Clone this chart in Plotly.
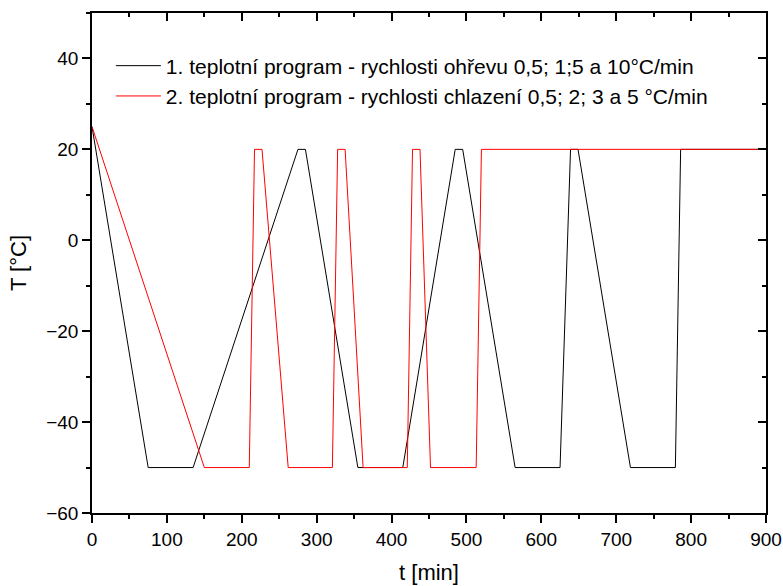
import plotly.graph_objects as go

# Program 1 (black)
t1 = [0, 75, 135, 275, 285, 355, 415, 485, 495, 565, 625, 639, 649, 719, 779, 786, 900]
T1 = [25, -50, -50, 20, 20, -50, -50, 20, 20, -50, -50, 20, 20, -50, -50, 20, 20]

# Program 2 (red)
t2 = [0, 150, 210, 217, 227, 262, 321, 328, 338, 362, 421, 428, 438, 452, 513, 520, 900]
T2 = [25, -50, -50, 20, 20, -50, -50, 20, 20, -50, -50, 20, 20, -50, -50, 20, 20]

name1 = "1. teplotní program - rychlosti ohřevu 0,5; 1;5 a 10°C/min"
name2 = "2. teplotní program - rychlosti chlazení 0,5; 2; 3 a 5 °C/min"

x_range = [0, 900]
y_range = [-60, 50]

FONT = "Liberation Sans, Arial, sans-serif"

fig = go.Figure()
fig.add_trace(go.Scatter(x=t1, y=T1, mode="lines", name=name1,
                         line=dict(color="black", width=1)))
fig.add_trace(go.Scatter(x=t2, y=T2, mode="lines", name=name2,
                         line=dict(color="red", width=1)))
# helper trace to materialize mirrored axes (top/right)
fig.add_trace(go.Scatter(x=[None], y=[None], xaxis="x2", yaxis="y2",
                         showlegend=False, hoverinfo="skip"))

tickfont = dict(family=FONT, size=19, color="black")

fig.update_layout(
    width=783, height=586,
    margin=dict(l=92, r=17, t=13, b=73),
    paper_bgcolor="white", plot_bgcolor="white",
    font=dict(family=FONT, color="black"),
    showlegend=True,
    legend=dict(x=0.028, y=0.935, xanchor="left", yanchor="top",
                bgcolor="rgba(0,0,0,0)", font=dict(family=FONT, size=21, color="black"),
                itemwidth=45, tracegroupgap=0),
    xaxis=dict(range=x_range, showgrid=False, zeroline=False, automargin=False,
               showline=True, linecolor="black", linewidth=1.5,
               ticks="outside", ticklen=8, tickwidth=1.5, tickcolor="black",
               dtick=100, tick0=0, tickfont=tickfont,
               minor=dict(dtick=50, ticks="outside", ticklen=4, tickwidth=1.5, tickcolor="black"),
               title=dict(text="t [min]", font=dict(family=FONT, size=22), standoff=16)),
    yaxis=dict(range=y_range, showgrid=False, zeroline=False, automargin=False,
               showline=True, linecolor="black", linewidth=1.5,
               ticks="outside", ticklen=8, tickwidth=1.5, tickcolor="black",
               dtick=20, tick0=0, tickfont=tickfont,
               minor=dict(dtick=10, ticks="outside", ticklen=4, tickwidth=1.5, tickcolor="black"),
               title=dict(text="T [°C]", font=dict(family=FONT, size=22), standoff=14)),
    xaxis2=dict(range=x_range, overlaying="x", side="top", anchor="y2", automargin=False,
                showgrid=False, zeroline=False, showticklabels=False,
                showline=True, linecolor="black", linewidth=1.5,
                ticks="inside", ticklen=8, tickwidth=1.5, tickcolor="black",
                dtick=100, tick0=0,
                minor=dict(dtick=50, ticks="inside", ticklen=4, tickwidth=1.5, tickcolor="black")),
    yaxis2=dict(range=y_range, overlaying="y", side="right", anchor="x2", automargin=False,
                showgrid=False, zeroline=False, showticklabels=False,
                showline=True, linecolor="black", linewidth=1.5,
                ticks="inside", ticklen=8, tickwidth=1.5, tickcolor="black",
                dtick=20, tick0=0,
                minor=dict(dtick=10, ticks="inside", ticklen=4, tickwidth=1.5, tickcolor="black")),
)

fig.write_html("out.html")
